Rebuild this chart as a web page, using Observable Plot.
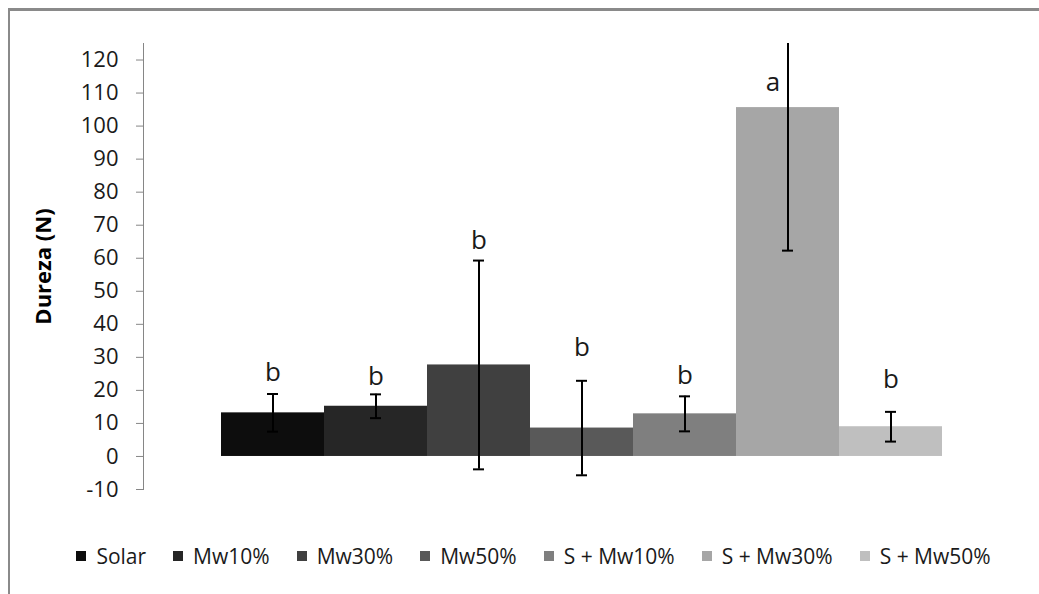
<!DOCTYPE html>
<html>
<head>
<meta charset="utf-8">
<script src="https://cdn.jsdelivr.net/npm/d3@7"></script>
<script src="https://cdn.jsdelivr.net/npm/@observablehq/plot@0.6"></script>
<style>
  html, body { margin: 0; padding: 0; background: #fff; width: 1039px; height: 594px; overflow: hidden; }
  #frame { position: absolute; left: 8px; top: 8px; width: 1200px; height: 800px; box-sizing: border-box;
           border-left: 2px solid #8a8a8a; border-top: 3px solid #8a8a8a; }
  #chart { position: absolute; left: 0; top: 0; }
  #legend { position: absolute; left: 0; top: 542px; width: 1039px; box-sizing: border-box; padding-left: 28px;
            display: flex; justify-content: center; align-items: center;
            font-family: "Open Sans", sans-serif; font-size: 21px; color: #1a1a1a; line-height: 28px; white-space: pre; }
  .item { display: flex; align-items: center; margin: 0 13.5px; }
  .sw { display: inline-block; width: 10px; height: 10px; margin-right: 10px; }
  #chart svg g[aria-label="y-axis tick"] path { stroke: #868686; }
</style>
</head>
<body>
<div id="frame"></div>
<div id="chart"></div>
<div id="legend"></div>
<script>
// ---- data ----
const categories = ["Solar", "Mw10%", "Mw30%", "Mw50%", "S + Mw10%", "S + Mw30%", "S + Mw50%"];
const means      = [13.2, 15.2, 27.7, 8.6, 12.9, 105.6, 9.0];
const errors     = [5.7, 3.6, 31.6, 14.3, 5.3, 43.3, 4.5];
const letters    = ["b", "b", "b", "b", "b", "a", "b"];
const letterY    = [25.5, 24.3, 65.3, 32.9, 24.5, 113.2, 23.2];
const colors     = ["#0d0d0d", "#262626", "#404040", "#595959", "#7f7f7f", "#a6a6a6", "#bfbfbf"];
const yTicks     = [-10, 0, 10, 20, 30, 40, 50, 60, 70, 80, 90, 100, 110, 120];
const yTitle     = "Dureza (N)";

const data = categories.map((c, i) => ({
  cat: c, mean: means[i], lo: means[i] - errors[i], hi: means[i] + errors[i],
  letter: letters[i], ly: letterY[i]
}));

const chart = Plot.plot({
  width: 1039,
  height: 510,
  marginLeft: 143,
  marginRight: 19,
  marginTop: 43,
  marginBottom: 21,
  style: { fontFamily: "'Open Sans', sans-serif", fontSize: "20px", color: "#1a1a1a", background: "transparent" },
  x: { type: "band", domain: categories, range: [221, 942], padding: 0, axis: null },
  y: { domain: [-10, 125], axis: null },
  color: { domain: categories, range: colors },
  marks: [
    Plot.barY(data, { x: "cat", y: "mean", fill: "cat" }),
    Plot.ruleX(data, { x: "cat", y1: "lo", y2: "hi", stroke: "#000", strokeWidth: 2, clip: true }),
    Plot.tickY(data, { x: "cat", y: "lo", stroke: "#000", strokeWidth: 2, insetLeft: 46, insetRight: 46, clip: true }),
    Plot.tickY(data, { x: "cat", y: "hi", stroke: "#000", strokeWidth: 2, insetLeft: 46, insetRight: 46, clip: true }),
    Plot.text(data.filter(d => d.letter !== "a"), { x: "cat", y: "ly", text: "letter", fontSize: 26, fill: "#1a1a1a" }),
    Plot.text(data.filter(d => d.letter === "a"), { x: "cat", y: "ly", text: "letter", fontSize: 26, fill: "#1a1a1a", dx: -15 }),
    Plot.axisY({ ticks: yTicks, tickSize: 7, tickPadding: 18, fontSize: 22, label: null, tickFormat: d => String(d) }),
    Plot.frame({ anchor: "left", stroke: "#868686" }),
    Plot.text([yTitle], { frameAnchor: "left", textAnchor: "middle", rotate: -90, dx: -100, fontWeight: "bold", fontSize: 22, fill: "#000" })
  ]
});
document.getElementById("chart").appendChild(chart);

const legend = document.getElementById("legend");
categories.forEach((c, i) => {
  const item = document.createElement("span");
  item.className = "item";
  const sw = document.createElement("span");
  sw.className = "sw";
  sw.style.background = colors[i];
  item.appendChild(sw);
  item.appendChild(document.createTextNode(c));
  legend.appendChild(item);
});
</script>
</body>
</html>
